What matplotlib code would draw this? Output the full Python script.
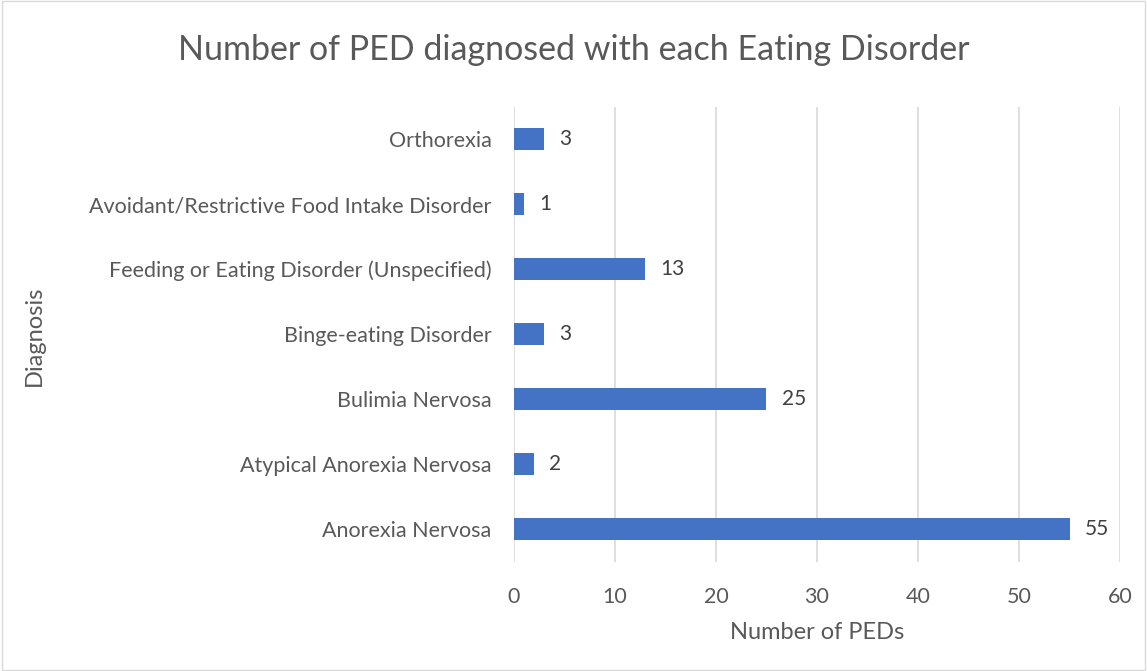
import matplotlib.pyplot as plt
from matplotlib.patches import Rectangle

plt.rcParams['font.family'] = ['Lato', 'DejaVu Sans']

diagnoses = ['Anorexia Nervosa', 'Atypical Anorexia Nervosa', 'Bulimia Nervosa',
             'Binge-eating Disorder', 'Feeding or Eating Disorder (Unspecified)',
             'Avoidant/Restrictive Food Intake Disorder', 'Orthorexia']
counts = [55, 2, 25, 3, 13, 1, 3]
xticks = [0, 10, 20, 30, 40, 50, 60]

text_col = '#595959'
bar_col = '#4472C4'
grid_col = '#D9D9D9'

fig = plt.figure(figsize=(11.47, 6.71), dpi=100)
fig.patches.append(Rectangle((0.002, 0.002), 0.996, 0.996, transform=fig.transFigure,
                             fill=False, edgecolor='#D9D9D9', linewidth=1))
ax = fig.add_axes([0.448, 0.163, 0.5285, 0.678])

ypos = range(len(diagnoses))
bars = ax.barh(ypos, counts, height=0.34, color=bar_col, zorder=3)
for y, v in zip(ypos, counts):
    ax.text(v + 1.5, y, str(v), va='center', ha='left', fontsize=15, color='#404040')

ax.set_xlim(0, 60)
ax.set_ylim(-0.5, len(diagnoses) - 0.5)
ax.set_xticks(xticks)
ax.set_yticks(list(ypos))
ax.set_yticklabels(diagnoses)
ax.tick_params(axis='both', length=0, labelsize=15.5, colors=text_col)
ax.tick_params(axis='x', pad=18)
ax.tick_params(axis='y', pad=16)
ax.grid(axis='x', color=grid_col, linewidth=1.2, zorder=0)
for s in ax.spines.values():
    s.set_visible(False)

ax.set_xlabel('Number of PEDs', fontsize=17, color=text_col, labelpad=11)
ax.set_ylabel('Diagnosis', fontsize=17, color=text_col)
ax.yaxis.set_label_coords(45 / 1147, 0.5, transform=fig.transFigure)
fig.text(0.5, 0.925, 'Number of PED diagnosed with each Eating Disorder',
         ha='center', va='center', fontsize=24.5, color=text_col)

fig.savefig('out.png', dpi=100)
